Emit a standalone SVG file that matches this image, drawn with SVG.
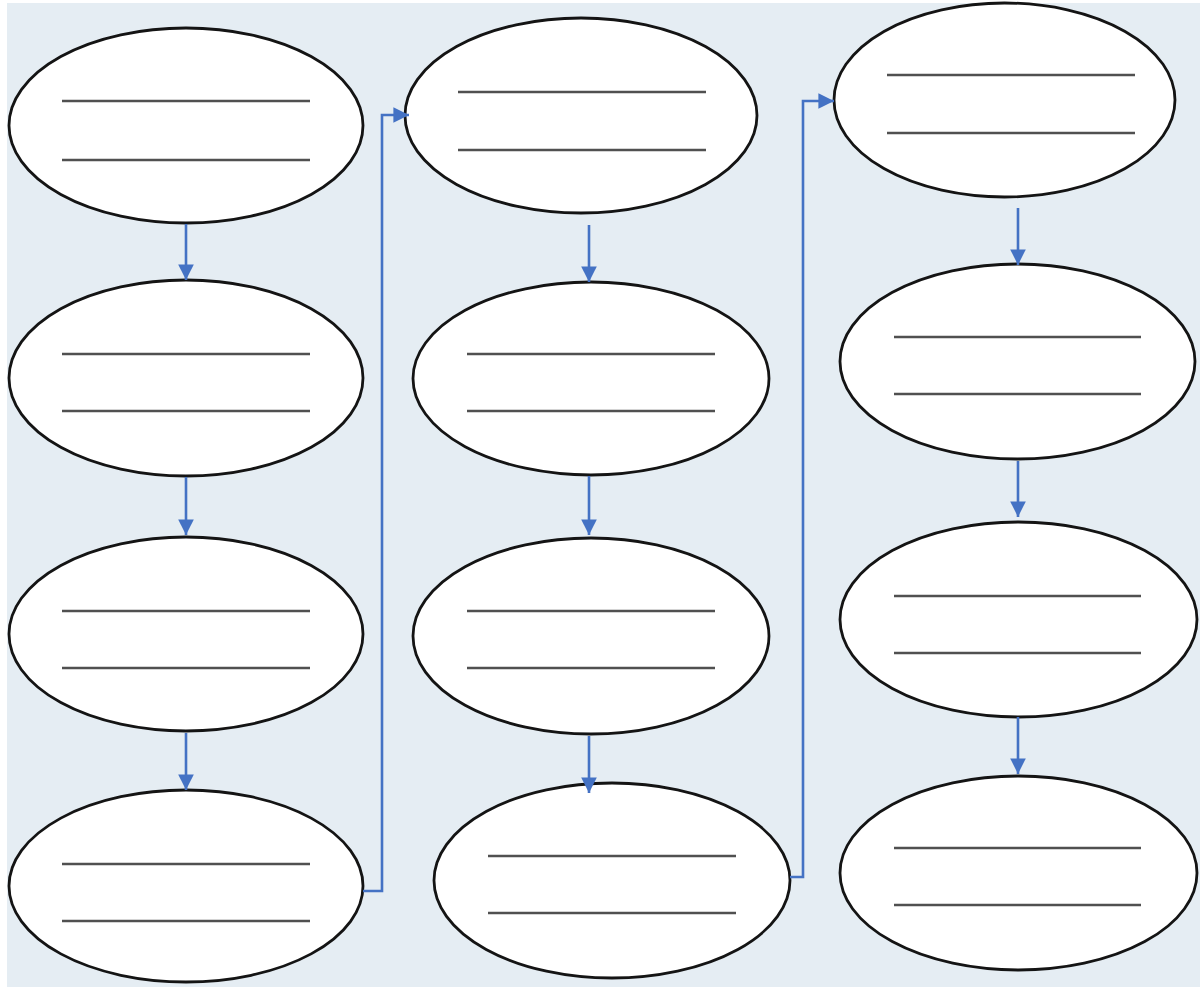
<svg xmlns="http://www.w3.org/2000/svg" width="1203" height="987" viewBox="0 0 1203 987">
<style>
.node ellipse{fill:#fff;stroke:#141414;stroke-width:2.8}
.node line{stroke:#505050;stroke-width:2.6}
.conn{fill:none;stroke:#4472c4;stroke-width:2.6}
</style>
<defs>
<marker id="ah" viewBox="0 0 10 10" refX="10" refY="5" markerWidth="6" markerHeight="6" markerUnits="strokeWidth" orient="auto">
<path d="M0,0 L10,5 L0,10 Z" fill="#4472c4"/>
</marker>
</defs>
<rect x="0" y="0" width="1203" height="987" fill="#fff"/>
<rect x="7" y="3" width="1193" height="984" fill="#e5edf3"/>
<g id="n1" class="node"><ellipse cx="186" cy="125.5" rx="177" ry="97.5"/><line x1="62" y1="101" x2="310" y2="101"/><line x1="62" y1="160" x2="310" y2="160"/></g>
<g id="n2" class="node"><ellipse cx="186" cy="378" rx="177" ry="98"/><line x1="62" y1="354" x2="310" y2="354"/><line x1="62" y1="411" x2="310" y2="411"/></g>
<g id="n3" class="node"><ellipse cx="186" cy="634" rx="177" ry="97"/><line x1="62" y1="611" x2="310" y2="611"/><line x1="62" y1="668" x2="310" y2="668"/></g>
<g id="n4" class="node"><ellipse cx="186" cy="886" rx="177" ry="96"/><line x1="62" y1="864" x2="310" y2="864"/><line x1="62" y1="921" x2="310" y2="921"/></g>
<g id="n5" class="node"><ellipse cx="581" cy="115.5" rx="176" ry="97.5"/><line x1="458" y1="92" x2="706" y2="92"/><line x1="458" y1="150" x2="706" y2="150"/></g>
<g id="n6" class="node"><ellipse cx="591" cy="378.5" rx="178" ry="96.5"/><line x1="467" y1="354" x2="715" y2="354"/><line x1="467" y1="411" x2="715" y2="411"/></g>
<g id="n7" class="node"><ellipse cx="591" cy="636" rx="178" ry="98"/><line x1="467" y1="611" x2="715" y2="611"/><line x1="467" y1="668" x2="715" y2="668"/></g>
<g id="n8" class="node"><ellipse cx="612" cy="880.5" rx="178" ry="97.5"/><line x1="488" y1="856" x2="736" y2="856"/><line x1="488" y1="913" x2="736" y2="913"/></g>
<g id="n9" class="node"><ellipse cx="1004.5" cy="100" rx="170.5" ry="97"/><line x1="887" y1="75" x2="1135" y2="75"/><line x1="887" y1="133" x2="1135" y2="133"/></g>
<g id="n10" class="node"><ellipse cx="1017.5" cy="361.5" rx="177.5" ry="97.5"/><line x1="894" y1="337" x2="1141" y2="337"/><line x1="894" y1="394" x2="1141" y2="394"/></g>
<g id="n11" class="node"><ellipse cx="1018.5" cy="619.5" rx="178.5" ry="97.5"/><line x1="894" y1="596" x2="1141" y2="596"/><line x1="894" y1="653" x2="1141" y2="653"/></g>
<g id="n12" class="node"><ellipse cx="1018.5" cy="873" rx="178.5" ry="97"/><line x1="894" y1="848" x2="1141" y2="848"/><line x1="894" y1="905" x2="1141" y2="905"/></g>
<g id="connectors">
<line class="conn" x1="186" y1="224" x2="186" y2="280" marker-end="url(#ah)"/>
<line class="conn" x1="186" y1="477" x2="186" y2="535" marker-end="url(#ah)"/>
<line class="conn" x1="186" y1="733" x2="186" y2="790" marker-end="url(#ah)"/>
<polyline class="conn" points="363,891 382,891 382,115 409,115" marker-end="url(#ah)"/>
<line class="conn" x1="589" y1="225" x2="589" y2="282" marker-end="url(#ah)"/>
<line class="conn" x1="589" y1="476" x2="589" y2="535" marker-end="url(#ah)"/>
<line class="conn" x1="589" y1="736" x2="589" y2="793" marker-end="url(#ah)"/>
<polyline class="conn" points="790,877 803,877 803,101 834,101" marker-end="url(#ah)"/>
<line class="conn" x1="1018" y1="208" x2="1018" y2="265" marker-end="url(#ah)"/>
<line class="conn" x1="1018" y1="461" x2="1018" y2="517" marker-end="url(#ah)"/>
<line class="conn" x1="1018" y1="717" x2="1018" y2="774" marker-end="url(#ah)"/>
</g>
</svg>
